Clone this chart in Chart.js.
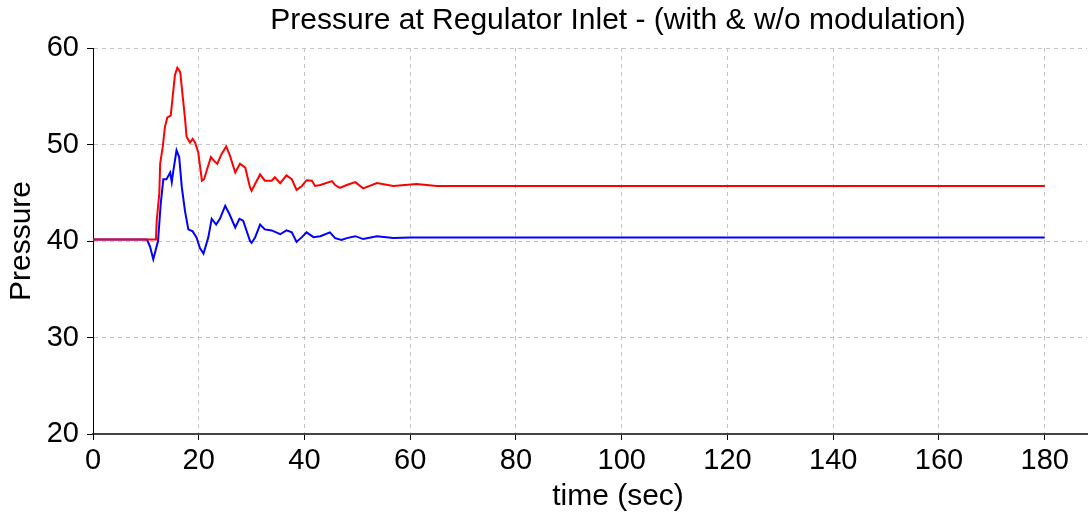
<!DOCTYPE html>
<html>
<head>
<meta charset="utf-8">
<script src="https://cdn.jsdelivr.net/npm/chart.js@4/dist/chart.umd.min.js"></script>
<style>
    html, body { margin: 0; padding: 0; background: #fff; }
    #wrap { width: 1088px; height: 518px; position: relative; }
</style>
</head>
<body>
<div id="wrap"><canvas id="pressure-canvas"></canvas></div>
<script>
const chartTitle = "Pressure at Regulator Inlet - (with & w/o modulation)";
const xTitle = "time (sec)";
const yTitle = "Pressure";

const xTicks = [0, 20, 40, 60, 80, 100, 120, 140, 160, 180];
const yTicks = [20, 30, 40, 50, 60];

// without modulation (red)
const redTime = [
    0, 11.9, 12.05, 12.55, 12.7, 13.2, 13.6, 14.06, 14.7, 15.1, 15.5, 15.95, 16.5,
    17.0, 17.4, 17.7, 18.35, 18.85, 19.3, 19.9, 20.6, 21.0, 22.3, 22.9, 23.5, 24.3,
    25.2, 25.9, 26.9, 27.8, 28.8, 29.7, 30.0, 30.65, 31.6, 32.5, 33.8, 34.4, 35.4,
    36.6, 37.6, 38.5, 39.5, 40.4, 41.4, 42.0, 43.0, 45.2, 45.8, 46.7, 48.0, 49.6,
    51.1, 53.7, 56.8, 61.2, 65, 180,
];
const redPressure = [
    40.15, 40.15, 42.1, 45.0, 48.0, 49.8, 51.8, 52.8, 53.0, 55.1, 57.2, 57.95, 57.5,
    54.8, 52.7, 50.8, 50.2, 50.6, 50.2, 49.2, 46.25, 46.4, 48.7, 48.3, 48.0, 49.0,
    49.8, 48.85, 47.1, 48.0, 47.6, 45.55, 45.2, 45.9, 46.9, 46.25, 46.25, 46.6, 46.0,
    46.8, 46.4, 45.3, 45.7, 46.3, 46.25, 45.7, 45.8, 46.2, 45.8, 45.5, 45.8, 46.1,
    45.45, 46.0, 45.7, 45.9, 45.7, 45.7,
];

// with modulation (blue)
const blueTime = [
    0, 10.2, 10.8, 11.4, 12.3, 12.8, 13.3, 13.9, 14.6, 14.9, 15.2, 15.8, 16.3, 16.8,
    17.4, 18.03, 18.85, 19.6, 20.2, 20.9, 21.8, 22.45, 23.3, 24.0, 25.0, 25.8, 26.9,
    27.7, 28.4, 29.7, 30.0, 30.65, 31.6, 32.5, 33.8, 35.4, 36.6, 37.6, 38.5, 39.5,
    40.4, 41.7, 43.0, 44.8, 45.8, 47.0, 48.0, 49.6, 51.1, 53.7, 56.8, 60, 180,
];
const bluePressure = [
    40.15, 40.15, 39.4, 38.1, 40.0, 43.8, 46.4, 46.4, 47.1, 46.1, 47.3, 49.4, 48.7,
    45.55, 43.1, 41.2, 41.0, 40.35, 39.3, 38.7, 40.35, 42.3, 41.7, 42.3, 43.65, 42.8,
    41.4, 42.3, 42.1, 40.0, 39.8, 40.35, 41.7, 41.2, 41.1, 40.7, 41.1, 40.9, 39.9,
    40.4, 40.9, 40.4, 40.5, 40.9, 40.3, 40.1, 40.3, 40.5, 40.2, 40.5, 40.3, 40.35,
    40.35,
];

function toPoints(xs, ys) {
    return xs.map((x, i) => ({ x: x, y: ys[i] }));
}

const FONT = "'Liberation Sans', Arial, sans-serif";

// title and x axis title sit off the plot centre in the original
const titlesPlugin = {
    id: "titles",
    afterDraw(chart) {
        const ctx = chart.ctx;
        ctx.save();
        ctx.fillStyle = "#000";
        ctx.textAlign = "center";
        ctx.textBaseline = "middle";
        ctx.font = "30px " + FONT;
        ctx.fillText(chartTitle, 618, 21);
        ctx.fillText(xTitle, 618, 497);
        ctx.restore();
    },
};

const data = {
    datasets: [
        {
            label: "w/o modulation",
            data: toPoints(redTime, redPressure),
            borderColor: "#ff0000",
            borderWidth: 2,
            pointRadius: 0,
            fill: false,
        },
        {
            label: "with modulation",
            data: toPoints(blueTime, bluePressure),
            borderColor: "#0000ff",
            borderWidth: 2,
            pointRadius: 0,
            fill: false,
        },
    ],
};

const config = {
    type: "line",
    data: data,
    options: {
        responsive: true,
        maintainAspectRatio: false,
        animation: false,
        devicePixelRatio: 1,
        layout: { padding: { top: 48, right: 1, left: 0, bottom: 0 } },
        plugins: {
            legend: { display: false },
            tooltip: { enabled: false },
        },
        scales: {
            x: {
                type: "linear",
                min: 0,
                max: 188,
                afterBuildTicks: (scale) => {
                    scale.ticks = xTicks.map((v) => ({ value: v }));
                },
                afterFit: (scale) => {
                    scale.height = 84;
                },
                ticks: {
                    color: "#000",
                    font: { family: FONT, size: 29 },
                    padding: 4,
                    maxRotation: 0,
                    autoSkip: false,
                },
                grid: {
                    color: "#c4c4c4",
                    lineWidth: 1,
                    tickLength: 6,
                    tickColor: "#000",
                    tickBorderDash: [1, 0],
                },
                border: { color: "#444", width: 2, dash: [4, 4] },
                title: { display: false },
            },
            y: {
                min: 20,
                max: 60,
                afterBuildTicks: (scale) => {
                    scale.ticks = yTicks.map((v) => ({ value: v }));
                },
                afterFit: (scale) => {
                    scale.width = 93;
                },
                ticks: {
                    color: "#000",
                    font: { family: FONT, size: 29 },
                    padding: 8,
                },
                grid: {
                    color: "#c4c4c4",
                    lineWidth: 1,
                    tickLength: 6,
                    tickColor: "#000",
                    tickBorderDash: [1, 0],
                },
                border: { color: "#000", width: 1, dash: [4, 4] },
                title: {
                    display: true,
                    text: yTitle,
                    color: "#000",
                    font: { family: FONT, size: 30 },
                    padding: { top: 4, bottom: 0 },
                },
            },
        },
    },
    plugins: [titlesPlugin],
};

const pressureCanvas = document.querySelector("#pressure-canvas");
const myChart = new Chart(pressureCanvas, config);
</script>
</body>
</html>
